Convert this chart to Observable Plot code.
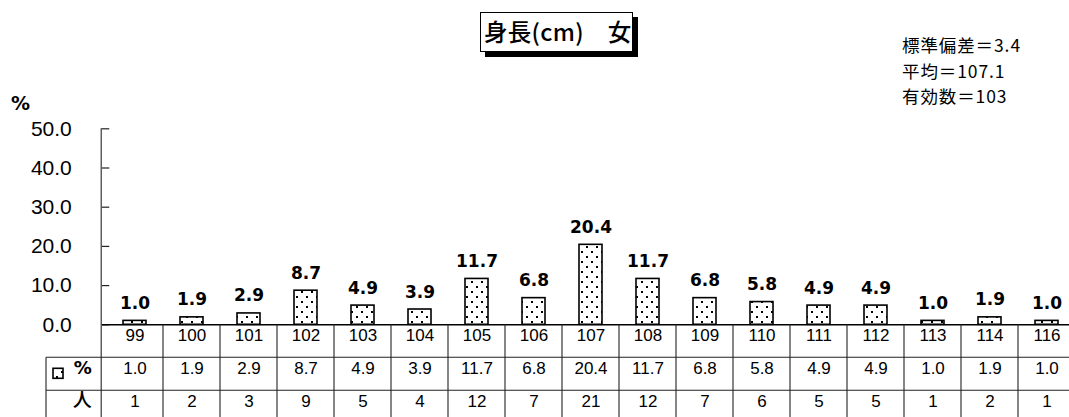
<!DOCTYPE html>
<html>
<head>
<meta charset="utf-8">
<script src="https://cdn.jsdelivr.net/npm/d3@7"></script>
<script src="https://cdn.jsdelivr.net/npm/@observablehq/plot@0.6"></script>
<style>
  html, body { margin: 0; padding: 0; background: #fff; overflow: hidden; }
  #wrap { position: relative; width: 1069px; height: 417px; overflow: hidden; background: #fff; }
  #wrap svg { position: absolute; left: 0; top: 0; }
  .title { position: absolute; left: 480px; top: 12px; width: 153px; height: 40px; box-sizing: border-box;
    border: 1px solid #000; box-shadow: 5px 5px 0 #000; background: #fff;
    font-family: "Noto Sans CJK JP", sans-serif; font-weight: 500; font-size: 23.5px; line-height: 37px; padding-left: 3px; white-space: nowrap; color: #000; letter-spacing: 0.3px; }
  .stat { position: absolute; left: 902px; font-family: "Noto Sans CJK JP", sans-serif; font-size: 17.5px; line-height: 20px; height: 20px; color: #000; white-space: nowrap; letter-spacing: 0.9px; }
  .pct { position: absolute; left: 11px; top: 92px; font-family: "DejaVu Sans", sans-serif; font-weight: bold; font-size: 19px; line-height: 22px; color: #000; }
</style>
</head>
<body>
<div id="wrap">
  <div class="pct">%</div>
  <div class="title" id="title"></div>
</div>
<script>
const titleText = "身長(cm)　女";
const statLines = ["標準偏差＝3.4", "平均＝107.1", "有効数＝103"];
const categories = ["99","100","101","102","103","104","105","106","107","108","109","110","111","112","113","114","116"];
const percents = [1.0,1.9,2.9,8.7,4.9,3.9,11.7,6.8,20.4,11.7,6.8,5.8,4.9,4.9,1.0,1.9,1.0];
const counts = [1,2,3,9,5,4,12,7,21,12,7,6,5,5,1,2,1];
const yTicks = [0,10,20,30,40,50];
const rowLabels = ["%", "人"];

document.getElementById("title").textContent = titleText;
const wrap = document.getElementById("wrap");
statLines.forEach((s, i) => {
  const d = document.createElement("div");
  d.className = "stat";
  d.style.top = (35 + i * 25.5) + "px";
  d.textContent = s;
  wrap.appendChild(d);
});

const data = categories.map((c, i) => ({cat: c, pct: percents[i], n: counts[i]}));

const W = 1069, H = 417;
const mLeft = 101.25, mTop = 128.3, mBottom = 92.7;
const step = 57.5;
const frameW = W - mLeft;

const plot = Plot.plot({
  width: W, height: H,
  marginLeft: mLeft, marginRight: 0, marginTop: mTop, marginBottom: mBottom,
  style: {background: "transparent"},
  x: {type: "band", domain: categories, range: [mLeft, mLeft + step * categories.length], paddingInner: 0.6, paddingOuter: 0.3, axis: null},
  y: {domain: [0, 50]},
  marks: [
    Plot.axisY({ticks: yTicks, tickFormat: d => d.toFixed(1), tickSize: 0, tickPadding: 30, fontSize: 21, fontFamily: "Liberation Sans", label: null}),
    Plot.tickY(yTicks, {y: d => d, insetRight: frameW - 8, stroke: "#222", strokeWidth: 1.2}),
    Plot.barY(data, {x: "cat", y: "pct", fill: "url(#dots)", stroke: "#000", strokeWidth: 1.6}),
    Plot.ruleY([0], {stroke: "#000", strokeWidth: 1.6}),
    Plot.text(data, {x: "cat", y: "pct", text: d => d.pct.toFixed(1), dy: -12, lineAnchor: "bottom", fontWeight: "bold", fontSize: 17, fontFamily: "DejaVu Sans", fill: "#000", ariaLabel: "vlabels"}),
    Plot.text(data, {x: "cat", text: "cat", frameAnchor: "bottom", dy: 16.5, fontSize: 17, fontFamily: "Liberation Sans", fill: "#000"}),
    Plot.text(data, {x: "cat", text: d => d.pct.toFixed(1), frameAnchor: "bottom", dy: 49.5, fontSize: 17, fontFamily: "Liberation Sans", fill: "#000"}),
    Plot.text(data, {x: "cat", text: d => String(d.n), frameAnchor: "bottom", dy: 82.5, fontSize: 17, fontFamily: "Liberation Sans", fill: "#000"}),
    Plot.text([rowLabels[0]], {text: d => d, frameAnchor: "bottom-left", dx: -10, dy: 49.5, textAnchor: "end", fontSize: 18, fontWeight: "bold", fontFamily: "DejaVu Sans", fill: "#000"}),
    Plot.text([rowLabels[1]], {text: d => d, frameAnchor: "bottom-left", dx: -10, dy: 82.5, textAnchor: "end", fontSize: 19, fontWeight: 500, fontFamily: "Noto Sans CJK JP", fill: "#000"})
  ]
});

wrap.prepend(plot);

const svg = d3.select(plot);
const defs = svg.insert("defs", ":first-child");
const pat = defs.append("pattern").attr("id", "dots").attr("patternUnits", "userSpaceOnUse").attr("width", 10).attr("height", 10);
pat.append("rect").attr("width", 10).attr("height", 10).attr("fill", "#fff");
pat.append("rect").attr("x", 1).attr("y", 1).attr("width", 2).attr("height", 2).attr("fill", "#000");
pat.append("rect").attr("x", 6).attr("y", 6).attr("width", 2).attr("height", 2).attr("fill", "#000");

svg.selectAll('g[aria-label="vlabels"] text').style("letter-spacing", "2.5px");
svg.selectAll('g[aria-label="y-axis tick label"] text').style("font-weight", "500");

// table grid using the plot's scales
const xs = plot.scale("x"), ys = plot.scale("y");
const bw = xs.bandwidth;
const st = xs.apply(categories[1]) - xs.apply(categories[0]);
const y0 = ys.apply(0), yTop = ys.apply(50);
const rowH = 33;
const grid = svg.append("g").attr("stroke", "#222").attr("stroke-width", 1.1).attr("fill", "none");
grid.append("line").attr("x1", xs.range[0]).attr("x2", xs.range[0]).attr("y1", yTop).attr("y2", H).attr("stroke", "#555").attr("stroke-width", 1.4);
categories.forEach((c, i) => {
  if (i === 0) return;
  const xb = xs.apply(c) - (st - bw) / 2;
  grid.append("line").attr("x1", xb).attr("x2", xb).attr("y1", y0).attr("y2", H);
});
const leftX = 46;
[1, 2].forEach(k => {
  grid.append("line").attr("x1", leftX).attr("x2", W).attr("y1", y0 + rowH * k).attr("y2", y0 + rowH * k);
});
grid.append("line").attr("x1", leftX).attr("x2", leftX).attr("y1", y0 + rowH).attr("y2", H);
svg.append("rect").attr("x", 53).attr("y", y0 + rowH * 1.5 - 5.5).attr("width", 10).attr("height", 10)
  .attr("fill", "url(#dots)").attr("stroke", "#000").attr("stroke-width", 1.6);
</script>
</body>
</html>
